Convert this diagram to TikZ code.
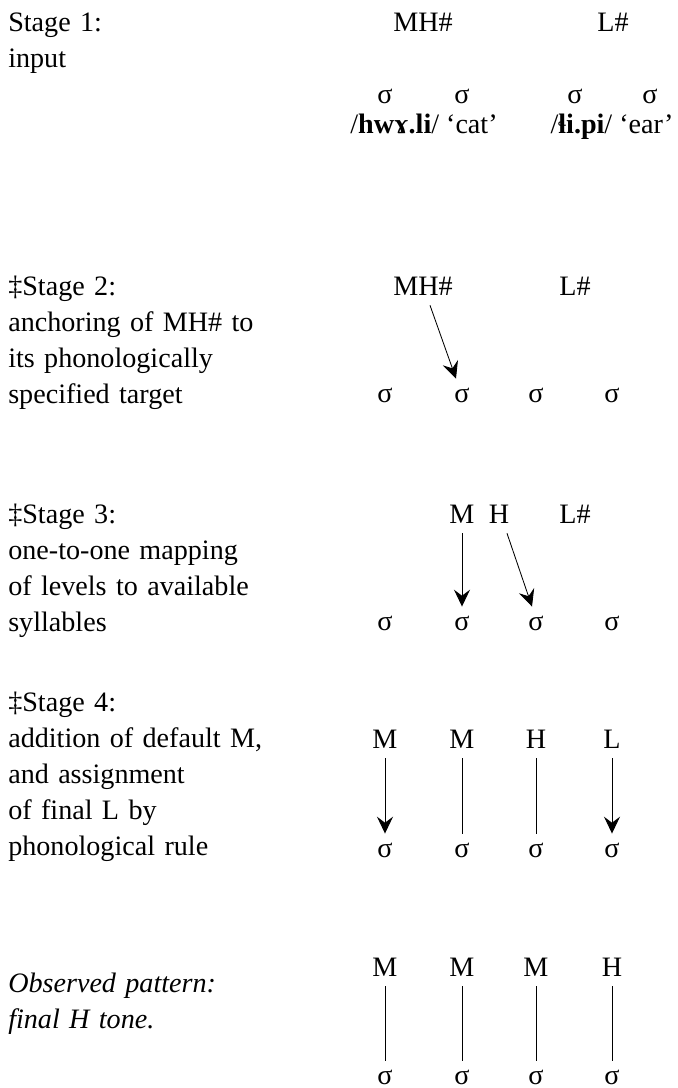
\documentclass[tikz,border=0pt]{standalone}
\usepackage{fontspec}
\setmainfont{Liberation Serif}
\usetikzlibrary{arrows.meta}

\tikzset{
  stage/.style={anchor=base west, align=left, inner sep=0pt, text width=8cm},
  tone/.style={anchor=base, inner xsep=0pt, inner ysep=0.25cm},
  syl/.style={anchor=base, inner xsep=0pt, inner ysep=0.22cm},
  link/.style={line width=0.6pt},
  arr/.style={link, -{Stealth[length=0.42cm, width=0.4cm, inset=0.15cm]}},
}

\begin{document}
\begin{tikzpicture}[x=0.025cm, y=-0.025cm, font=\fontsize{20}{25.6}\selectfont]
  \useasboundingbox (0,0) rectangle (678,1088);

  % stage 1: input
  \node[stage] (st1) at (8,31) {Stage 1:\\input};
  \node[tone] (mh1) at (423,31) {MH\#};
  \node[tone] (l1) at (613,31) {L\#};
  \node[syl] (s11) at (385,103) {σ};
  \node[syl] (s12) at (462,103) {σ};
  \node[syl] (s13) at (575,103) {σ};
  \node[syl] (s14) at (650,103) {σ};
  \node[anchor=base] (cat) at (424,133) {/\textbf{hwɤ.li}/ ‘cat’};
  \node[anchor=base] (ear) at (612,133) {/\textbf{ɬi.pi}/ ‘ear’};

  % stage 2
  \node[stage] (st2) at (8,295)
    {‡Stage 2:\\anchoring of MH\# to\\its phonologically\\specified target};
  \node[tone] (mh2) at (423,295) {MH\#};
  \node[tone] (l2) at (575,295) {L\#};
  \node[syl] (s21) at (385,402) {σ};
  \node[syl] (s22) at (462,402) {σ};
  \node[syl] (s23) at (536,402) {σ};
  \node[syl] (s24) at (612,402) {σ};
  \draw[arr] ([shift={(7,0)}]mh2.south) -- ([shift={(-6,0)}]s22.north);

  % stage 3
  \node[stage] (st3) at (8,523)
    {‡Stage 3:\\one-to-one mapping\\of levels to available\\syllables};
  \node[tone] (m3) at (462,523) {M};
  \node[tone] (h3) at (499,523) {H};
  \node[tone] (l3) at (575,523) {L\#};
  \node[syl] (s31) at (385,630) {σ};
  \node[syl] (s32) at (462,630) {σ};
  \node[syl] (s33) at (536,630) {σ};
  \node[syl] (s34) at (612,630) {σ};
  \draw[arr] (m3) -- (s32);
  \draw[arr] ([shift={(8,0)}]h3.south) -- ([shift={(-4,0)}]s33.north);

  % stage 4
  \node[stage] (st4) at (8,711)
    {‡Stage 4:\\addition of default M,\\and assignment\\of final L by\\phonological rule};
  \node[tone] (m41) at (385,748) {M};
  \node[tone] (m42) at (462,748) {M};
  \node[tone] (h4) at (536,748) {H};
  \node[tone] (l4) at (612,748) {L};
  \node[syl] (s41) at (385,857) {σ};
  \node[syl] (s42) at (462,857) {σ};
  \node[syl] (s43) at (536,857) {σ};
  \node[syl] (s44) at (612,857) {σ};
  \draw[arr] (m41) -- (s41);
  \draw[link] (m42) -- (s42);
  \draw[link] (h4) -- (s43);
  \draw[arr] (l4) -- (s44);

  % observed output
  \node[stage, font=\fontsize{20}{25.6}\selectfont\itshape] (obs) at (8,992)
    {Observed pattern:\\final H tone.};
  \node[tone] (m51) at (385,976) {M};
  \node[tone] (m52) at (462,976) {M};
  \node[tone] (m53) at (536,976) {M};
  \node[tone] (h5) at (612,976) {H};
  \node[syl] (s51) at (385,1084) {σ};
  \node[syl] (s52) at (462,1084) {σ};
  \node[syl] (s53) at (536,1084) {σ};
  \node[syl] (s54) at (612,1084) {σ};
  \draw[link] (m51) -- (s51);
  \draw[link] (m52) -- (s52);
  \draw[link] (m53) -- (s53);
  \draw[link] (h5) -- (s54);
\end{tikzpicture}
\end{document}
